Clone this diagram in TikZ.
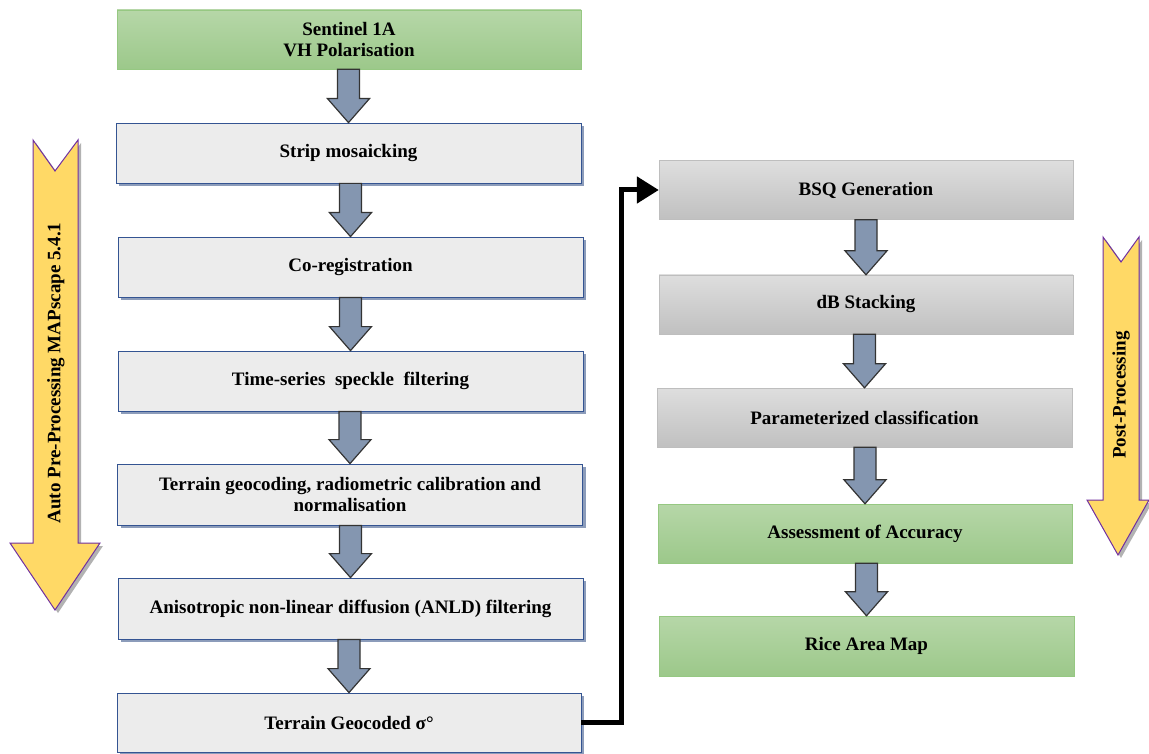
\documentclass[tikz,border=0pt]{standalone}
\usepackage{fontspec}
\setmainfont{Liberation Serif}
\usetikzlibrary{calc,shadows,arrows.meta}

\definecolor{grnTop}{RGB}{182,215,168}
\definecolor{grnBot}{RGB}{156,200,138}
\definecolor{grnLine}{RGB}{150,200,130}
\definecolor{boxFill}{RGB}{236,236,236}
\definecolor{boxLine}{RGB}{52,84,146}
\definecolor{shdw}{RGB}{140,156,186}
\definecolor{gryTop}{RGB}{222,222,222}
\definecolor{gryBot}{RGB}{192,192,192}
\definecolor{gryLine}{RGB}{190,190,190}
\definecolor{arrFill}{RGB}{132,150,176}
\definecolor{ylw}{RGB}{255,217,102}
\definecolor{ylwLine}{RGB}{112,48,160}

\begin{document}
\begin{tikzpicture}[x=1pt,y=-1pt]
\tikzstyle{every node}=[font=\bfseries\fontsize{19}{21}\selectfont,align=center,inner sep=2pt]
\tikzstyle{green box}=[draw=grnLine,top color=grnTop,bottom color=grnBot,minimum height=59pt]
\tikzstyle{step box}=[draw=boxLine,thick,fill=boxFill,minimum width=465pt,minimum height=60pt,
  drop shadow={shadow xshift=3pt,shadow yshift=-3pt,fill=shdw,opacity=1}]
\tikzstyle{grey box}=[draw=gryLine,top color=gryTop,bottom color=gryBot,minimum width=414pt,minimum height=59pt]
\tikzstyle{block arrow}=[draw=black!80,fill=arrFill,line width=1.2pt,line join=miter]
\tikzstyle{side arrow}=[draw=ylwLine,fill=ylw,line width=1pt,
  drop shadow={shadow xshift=3pt,shadow yshift=-3pt,fill=gray!60,opacity=1}]

\useasboundingbox (0,0) rectangle (1149,754);

% left column
\node[green box,minimum width=464pt] (sent) at (349,39.5) {Sentinel 1A\\VH Polarisation};
\node[step box] (strip) at (348.5,153) {Strip mosaicking};
\node[step box] (coreg) at (350.5,267) {Co-registration};
\node[step box] (speck) at (350.5,381) {Time-series~ speckle~ filtering};
\node[step box,minimum height=61pt] (geoc) at (350,494.5) {Terrain geocoding, radiometric calibration and\\normalisation};
\node[step box,minimum height=61pt] (anld) at (350.5,608.5) {Anisotropic non-linear diffusion (ANLD) filtering};
\node[step box,minimum width=464pt,minimum height=59pt] (tgs) at (349,722.5) {Terrain Geocoded σ°};

% right column
\node[grey box] (bsq) at (866,190) {BSQ Generation};
\node[grey box] (dbs) at (866,304.5) {dB Stacking};
\node[grey box,minimum width=415pt] (pcl) at (864.5,417.5) {Parameterized classification};
\node[green box,minimum width=414pt] (acc) at (865,533.5) {Assessment of Accuracy};
\node[green box,minimum width=415pt,minimum height=60pt] (ram) at (866.5,646) {Rice Area Map};

% block arrows
\foreach \a/\b in {sent/strip,strip/coreg,coreg/speck,speck/geoc,geoc/anld,anld/tgs,bsq/dbs,dbs/pcl,pcl/acc,acc/ram}
  \filldraw[block arrow] ($(\a.south -| \b.north)+(-11,0)$) -- ($(\b.north)+(-11,-24)$) -- ($(\b.north)+(-21,-24)$)
    -- (\b.north) -- ($(\b.north)+(21,-24)$) -- ($(\b.north)+(11,-24)$) -- ($(\a.south -| \b.north)+(11,0)$) -- cycle;

% link between the columns
\draw[line width=5pt,-{Triangle[length=22pt,width=26pt]}] (tgs.east) -- ++(40,0) |- (bsq.west);

% side arrows
\filldraw[side arrow] (33,140) -- (55,171) -- (78,140) -- (78,543) -- (100,543) -- (55,610) -- (10,543) -- (33,543) -- cycle;
\node[rotate=90] (pre) at (56,373) {Auto Pre-Processing MAPscape 5.4.1};
\filldraw[side arrow] (1103,237) -- (1121,262) -- (1139,237) -- (1139,500) -- (1149,500) -- (1118,555) -- (1087,500) -- (1103,500) -- cycle;
\node[rotate=90] (post) at (1121,395) {Post-Processing};
\end{tikzpicture}
\end{document}
